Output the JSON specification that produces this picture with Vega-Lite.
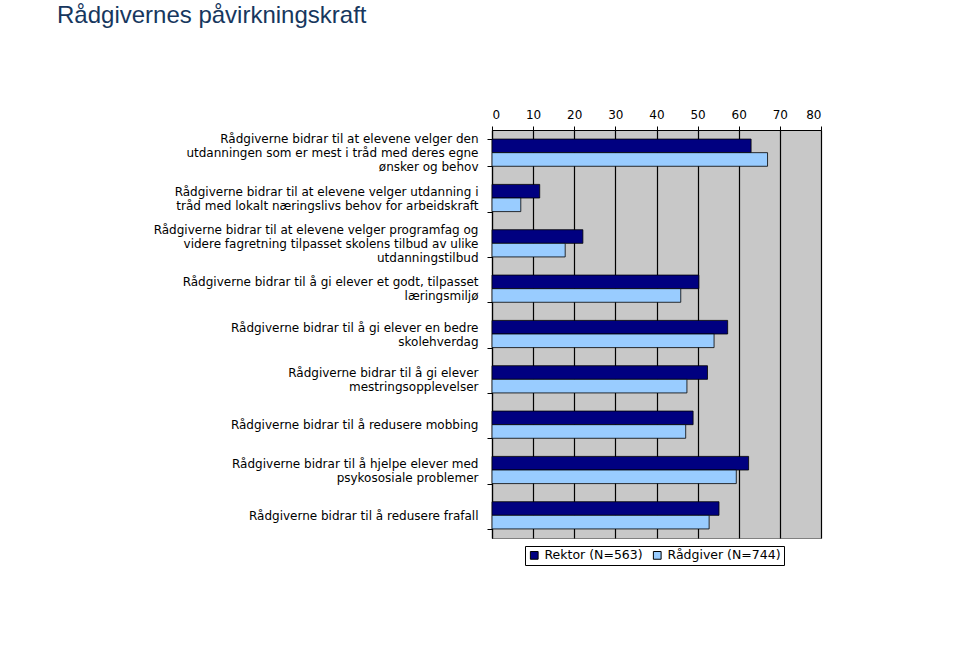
{
  "$schema": "https://vega.github.io/schema/vega-lite/v6.json",
  "width": 329,
  "height": 408,
  "autosize": {"type": "none"},
  "padding": {"left": 492, "top": 130, "right": 139, "bottom": 132},
  "background": "white",
  "title": {
    "text": "Rådgivernes påvirkningskraft",
    "anchor": "start",
    "frame": "group",
    "offset": 0,
    "dx": -435,
    "dy": -61,
    "baseline": "alphabetic",
    "font": "Liberation Sans",
    "fontSize": 24,
    "fontWeight": "normal",
    "color": "#17375E"
  },
  "data": {
    "values": [
      {"utsagn": "Rådgiverne bidrar til at elevene velger den\nutdanningen som er mest i tråd med deres egne\nønsker og behov", "gruppe": "Rektor (N=563)", "prosent": 63.0},
      {"utsagn": "Rådgiverne bidrar til at elevene velger den\nutdanningen som er mest i tråd med deres egne\nønsker og behov", "gruppe": "Rådgiver (N=744)", "prosent": 67.0},
      {"utsagn": "Rådgiverne bidrar til at elevene velger utdanning i\ntråd med lokalt næringslivs behov for arbeidskraft", "gruppe": "Rektor (N=563)", "prosent": 11.6},
      {"utsagn": "Rådgiverne bidrar til at elevene velger utdanning i\ntråd med lokalt næringslivs behov for arbeidskraft", "gruppe": "Rådgiver (N=744)", "prosent": 7.0},
      {"utsagn": "Rådgiverne bidrar til at elevene velger programfag og\nvidere fagretning tilpasset skolens tilbud av ulike\nutdanningstilbud", "gruppe": "Rektor (N=563)", "prosent": 22.1},
      {"utsagn": "Rådgiverne bidrar til at elevene velger programfag og\nvidere fagretning tilpasset skolens tilbud av ulike\nutdanningstilbud", "gruppe": "Rådgiver (N=744)", "prosent": 17.8},
      {"utsagn": "Rådgiverne bidrar til å gi elever et godt, tilpasset\nlæringsmiljø", "gruppe": "Rektor (N=563)", "prosent": 50.3},
      {"utsagn": "Rådgiverne bidrar til å gi elever et godt, tilpasset\nlæringsmiljø", "gruppe": "Rådgiver (N=744)", "prosent": 45.9},
      {"utsagn": "Rådgiverne bidrar til å gi elever en bedre\nskolehverdag", "gruppe": "Rektor (N=563)", "prosent": 57.3},
      {"utsagn": "Rådgiverne bidrar til å gi elever en bedre\nskolehverdag", "gruppe": "Rådgiver (N=744)", "prosent": 54.0},
      {"utsagn": "Rådgiverne bidrar til å gi elever\nmestringsopplevelser", "gruppe": "Rektor (N=563)", "prosent": 52.4},
      {"utsagn": "Rådgiverne bidrar til å gi elever\nmestringsopplevelser", "gruppe": "Rådgiver (N=744)", "prosent": 47.4},
      {"utsagn": "Rådgiverne bidrar til å redusere mobbing", "gruppe": "Rektor (N=563)", "prosent": 48.9},
      {"utsagn": "Rådgiverne bidrar til å redusere mobbing", "gruppe": "Rådgiver (N=744)", "prosent": 47.1},
      {"utsagn": "Rådgiverne bidrar til å hjelpe elever med\npsykososiale problemer", "gruppe": "Rektor (N=563)", "prosent": 62.4},
      {"utsagn": "Rådgiverne bidrar til å hjelpe elever med\npsykososiale problemer", "gruppe": "Rådgiver (N=744)", "prosent": 59.4},
      {"utsagn": "Rådgiverne bidrar til å redusere frafall", "gruppe": "Rektor (N=563)", "prosent": 55.2},
      {"utsagn": "Rådgiverne bidrar til å redusere frafall", "gruppe": "Rådgiver (N=744)", "prosent": 52.8}
    ]
  },
  "mark": {"type": "bar", "stroke": "black", "strokeWidth": 0.8},
  "encoding": {
    "y": {
      "field": "utsagn",
      "type": "nominal",
      "sort": null,
      "scale": {"paddingInner": 0.4, "paddingOuter": 0.2},
      "axis": {
        "title": null,
        "labelExpr": "split(datum.label, '\\n')",
        "labelFont": "DejaVu Sans",
        "labelFontSize": 12,
        "labelColor": "black",
        "labelLineHeight": 14,
        "labelLimit": 400,
        "labelPadding": 9,
        "labelOffset": {
          "condition": [
            {"test": "length(split(datum.value, '\\n')) == 3", "value": -14},
            {"test": "length(split(datum.value, '\\n')) == 2", "value": -7}
          ],
          "value": 0
        },
        "tickBand": "extent",
        "tickSize": 5,
        "tickColor": "black",
        "domainColor": "black",
        "domainWidth": 1.2
      }
    },
    "yOffset": {"field": "gruppe", "type": "nominal", "sort": ["Rektor (N=563)", "Rådgiver (N=744)"]},
    "x": {
      "field": "prosent",
      "type": "quantitative",
      "scale": {"domain": [0, 80], "nice": false},
      "axis": {
        "orient": "top",
        "title": null,
        "values": [0, 10, 20, 30, 40, 50, 60, 70, 80],
        "labelFont": "DejaVu Sans",
        "labelFontSize": 12,
        "labelColor": "black",
        "labelPadding": 5,
        "tickSize": 4,
        "tickColor": "black",
        "domainColor": "black",
        "grid": true,
        "gridColor": "black",
        "gridWidth": 1.2
      }
    },
    "color": {
      "field": "gruppe",
      "type": "nominal",
      "scale": {"domain": ["Rektor (N=563)", "Rådgiver (N=744)"], "range": ["#000080", "#99CCFF"]},
      "legend": {
        "title": null,
        "orient": "none",
        "direction": "horizontal",
        "legendX": 33,
        "legendY": 416,
        "padding": 3,
        "strokeColor": "black",
        "fillColor": "white",
        "symbolType": "square",
        "symbolSize": 60,
        "symbolStrokeColor": "black",
        "symbolStrokeWidth": 1,
        "symbolOpacity": 1,
        "labelFont": "DejaVu Sans",
        "labelFontSize": 12.5,
        "labelColor": "black",
        "columnPadding": 8
      }
    }
  },
  "config": {
    "view": {"fill": "#C8C8C8", "stroke": "#808080", "strokeWidth": 1}
  }
}
